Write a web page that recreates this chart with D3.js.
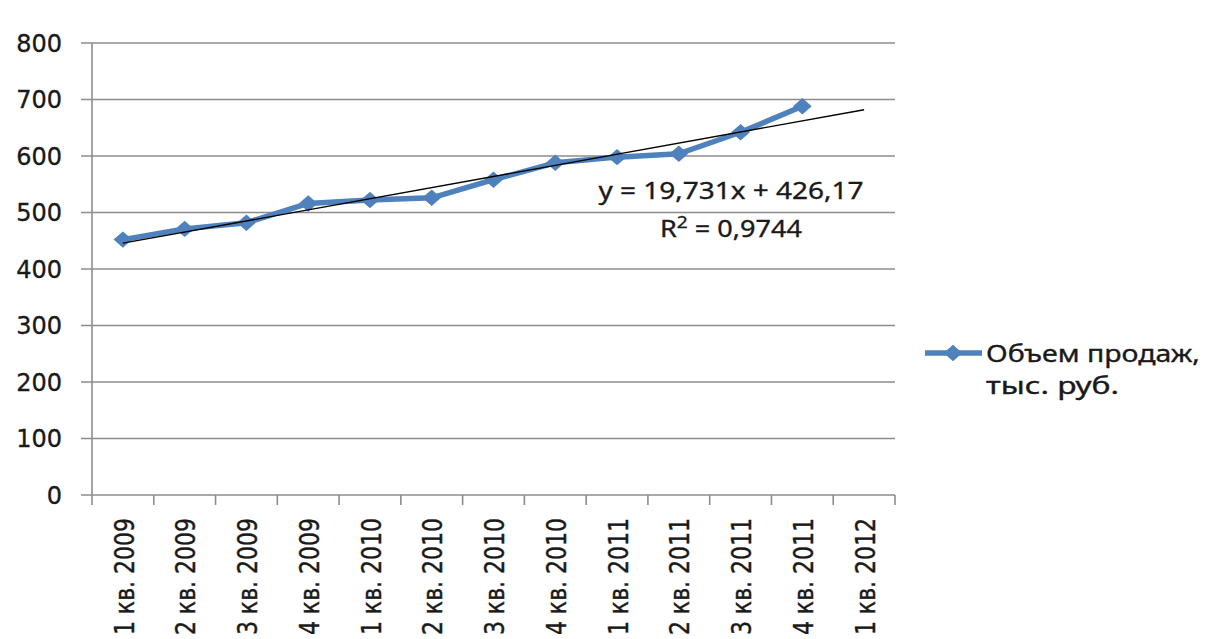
<!DOCTYPE html>
<html lang="ru">
<head>
<meta charset="UTF-8">
<title>Объем продаж</title>
<script src="https://d3js.org/d3.v7.min.js"></script>
<style>
  body { margin: 0; background: #fff; }
  text { fill: #1a1a1a; stroke: #1a1a1a; stroke-width: 0.35px; }
</style>
</head>
<body>
<svg width="1213" height="639"></svg>
<script>
  // quarters on the x axis (the last one only carries the trend forecast)
  const quarters = ["1 кв. 2009", "2 кв. 2009", "3 кв. 2009", "4 кв. 2009",
                    "1 кв. 2010", "2 кв. 2010", "3 кв. 2010", "4 кв. 2010",
                    "1 кв. 2011", "2 кв. 2011", "3 кв. 2011", "4 кв. 2011",
                    "1 кв. 2012"];
  // sales volume, thousand rubles
  const sales = [452, 471, 482, 516, 522, 526, 558, 588, 598, 604, 642, 688];
  const yTicks = [0, 100, 200, 300, 400, 500, 600, 700, 800];
  const seriesName = ["Объем продаж,", "тыс. руб."];
  const eqText = "y = 19,731x  + 426,17";
  const r2Text = "0,9744";

  const svg = d3.select("svg");
  const blue = "#4f81bd";
  const gridColor = "#8c8c8c";

  const plotL = 92, plotR = 895, plotT = 43, plotB = 495;

  const x = d3.scaleBand().domain(quarters).range([plotL, plotR]).padding(0);
  const y = d3.scaleLinear().domain([0, 800]).range([plotB, plotT]);
  const cx = i => x(quarters[i]) + x.bandwidth() / 2;

  // horizontal grid lines (they stick out left of the axis as ticks)
  svg.append("g")
    .selectAll("line")
    .data(yTicks)
    .join("line")
    .attr("x1", plotL - 11)
    .attr("x2", plotR)
    .attr("y1", d => y(d))
    .attr("y2", d => y(d))
    .attr("stroke", gridColor)
    .attr("stroke-width", 1.6);

  // vertical axis line
  svg.append("line")
    .attr("x1", plotL).attr("x2", plotL)
    .attr("y1", plotT).attr("y2", plotB + 10)
    .attr("stroke", gridColor).attr("stroke-width", 1.6);

  // x ticks at band boundaries
  const bounds = quarters.map(q => x(q)).concat([plotR]);
  svg.append("g")
    .selectAll("line")
    .data(bounds.slice(1))
    .join("line")
    .attr("x1", d => d).attr("x2", d => d)
    .attr("y1", plotB).attr("y2", plotB + 10)
    .attr("stroke", gridColor).attr("stroke-width", 1.6);

  // y labels
  svg.append("g")
    .selectAll("text")
    .data(yTicks)
    .join("text")
    .attr("x", 62)
    .attr("y", d => y(d))
    .attr("dy", "0.36em")
    .attr("text-anchor", "end")
    .style("font-family", "DejaVu Sans")
    .style("font-size", "24px")
    .text(d => d);

  // x labels, rotated
  svg.append("g")
    .selectAll("text")
    .data(quarters)
    .join("text")
    .attr("transform", (d, i) => `translate(${cx(i) + 1},518) scale(1.22,1) rotate(-90)`)
    .attr("text-anchor", "end")
    .attr("dy", "0.36em")
    .style("font-family", "DejaVu Sans")
    .style("font-size", "22px")
    .text(d => d);

  // linear trend by least squares, x = 1..n, extended one period ahead
  const n = sales.length;
  const xs = d3.range(1, n + 1);
  const mx = d3.mean(xs), my = d3.mean(sales);
  const slope = d3.sum(xs, (v, i) => (v - mx) * (sales[i] - my)) / d3.sum(xs, v => (v - mx) ** 2);
  const icpt = my - slope * mx;

  // series line
  const line = d3.line().x((d, i) => cx(i)).y(d => y(d));
  svg.append("path")
    .datum(sales)
    .attr("d", line)
    .attr("fill", "none")
    .attr("stroke", blue)
    .attr("stroke-width", 5.5)
    .attr("stroke-linejoin", "round");

  // square markers turned 45 degrees
  const diamond = d3.symbol().type(d3.symbolSquare).size(150);
  svg.append("g")
    .selectAll("path")
    .data(sales)
    .join("path")
    .attr("d", diamond)
    .attr("transform", (d, i) => `translate(${cx(i)},${y(d)}) scale(1.08,0.95) rotate(45)`)
    .attr("fill", blue);

  // trend line
  svg.append("line")
    .attr("x1", cx(0)).attr("y1", y(slope * 1 + icpt))
    .attr("x2", cx(quarters.length - 1)).attr("y2", y(slope * quarters.length + icpt))
    .attr("stroke", "#000")
    .attr("stroke-width", 1.3);

  // equation labels
  svg.append("text")
    .attr("x", 731).attr("y", 199)
    .attr("text-anchor", "middle")
    .style("font-family", "Noto Sans")
    .style("font-size", "24px")
    .attr("textLength", 265)
    .attr("lengthAdjust", "spacingAndGlyphs")
    .text(eqText);

  const r2 = svg.append("text")
    .attr("x", 731).attr("y", 237)
    .attr("text-anchor", "middle")
    .style("font-family", "Noto Sans")
    .style("font-size", "24px")
    .attr("textLength", 142)
    .attr("lengthAdjust", "spacingAndGlyphs");
  r2.append("tspan").text("R");
  r2.append("tspan").attr("dy", -9).style("font-size", "17px").text("2");
  r2.append("tspan").attr("dy", 9).text(" = " + r2Text);

  // legend
  const lg = svg.append("g");
  lg.append("line")
    .attr("x1", 925).attr("x2", 982)
    .attr("y1", 353).attr("y2", 353)
    .attr("stroke", blue).attr("stroke-width", 5.5);
  lg.append("path")
    .attr("d", diamond)
    .attr("transform", "translate(953,353) scale(1.08,0.95) rotate(45)")
    .attr("fill", blue);
  lg.selectAll("text")
    .data(seriesName)
    .join("text")
    .attr("x", 986)
    .attr("y", (d, i) => 362 + i * 32)
    .style("font-family", "Noto Sans")
    .style("font-size", "23px")
    .attr("textLength", (d, i) => i === 0 ? 214 : 133)
    .attr("lengthAdjust", "spacingAndGlyphs")
    .text(d => d);
</script>
</body>
</html>
